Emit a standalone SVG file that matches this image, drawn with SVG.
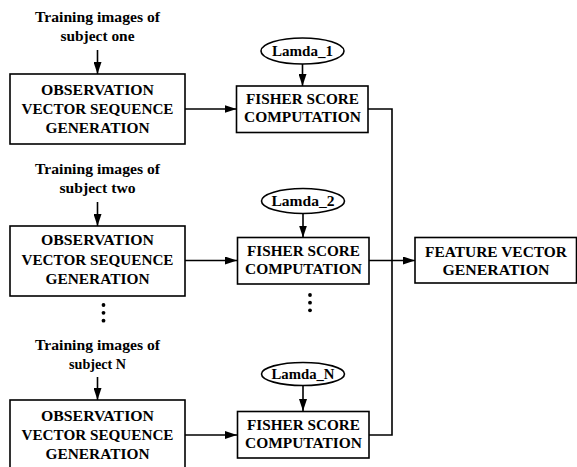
<svg xmlns="http://www.w3.org/2000/svg" width="577" height="467" viewBox="0 0 577 467" font-family="'Liberation Serif', 'Times New Roman', Times, serif">
<style>
text{font-family:'Liberation Serif','Times New Roman',Times,serif;font-weight:700;font-size:14px;text-anchor:middle;fill:#000}
.box{fill:#fff;stroke:#000;stroke-width:1.6}
.ln{fill:none;stroke:#000;stroke-width:1.6}
.arr{marker-end:url(#ah)}
</style>
<defs>
<marker id="ah" markerUnits="userSpaceOnUse" markerWidth="12" markerHeight="8" refX="12" refY="4" orient="auto">
<path d="M0,0 L12,4 L0,8 z" fill="#000"/>
</marker>
</defs>
<g id="connectors">
<path class="ln arr" d="M97.5,50 V74"/>
<path class="ln arr" d="M97.5,202 V226"/>
<path class="ln arr" d="M97.5,377 V400"/>
<path class="ln arr" d="M185,109 H236.5"/>
<path class="ln arr" d="M185,260.5 H237"/>
<path class="ln arr" d="M185,435 H237"/>
<path class="ln arr" d="M302.5,64 V86"/>
<path class="ln arr" d="M303,213.5 V237.5"/>
<path class="ln arr" d="M303,385.5 V411"/>
<path class="ln" d="M368,109 H392 V435 H369"/>
<path class="ln arr" d="M369,260.5 H415"/>
</g>
<g id="label1"><text x="97.5" y="22" textLength="125" lengthAdjust="spacingAndGlyphs">Training images of</text><text x="97.5" y="41" textLength="74" lengthAdjust="spacingAndGlyphs">subject one</text></g>
<g id="label2"><text x="97.5" y="173.5" textLength="125" lengthAdjust="spacingAndGlyphs">Training images of</text><text x="97.5" y="192.5" textLength="76" lengthAdjust="spacingAndGlyphs">subject two</text></g>
<g id="label3"><text x="97.5" y="349.5" textLength="125" lengthAdjust="spacingAndGlyphs">Training images of</text><text x="97.5" y="368.5" textLength="57" lengthAdjust="spacingAndGlyphs">subject N</text></g>
<g id="obs1"><rect class="box" x="10" y="74" width="175" height="70"/>
<text x="97.5" y="95" textLength="113" lengthAdjust="spacingAndGlyphs">OBSERVATION</text>
<text x="97.5" y="114" textLength="152" lengthAdjust="spacingAndGlyphs">VECTOR SEQUENCE</text>
<text x="97.5" y="133" textLength="104" lengthAdjust="spacingAndGlyphs">GENERATION</text></g>
<g id="obs2"><rect class="box" x="10" y="226" width="175" height="70"/>
<text x="97.5" y="245" textLength="113" lengthAdjust="spacingAndGlyphs">OBSERVATION</text>
<text x="97.5" y="264.5" textLength="152" lengthAdjust="spacingAndGlyphs">VECTOR SEQUENCE</text>
<text x="97.5" y="283.5" textLength="104" lengthAdjust="spacingAndGlyphs">GENERATION</text></g>
<g id="obs3"><rect class="box" x="10" y="400" width="175" height="70"/>
<text x="97.5" y="421" textLength="113" lengthAdjust="spacingAndGlyphs">OBSERVATION</text>
<text x="97.5" y="440" textLength="152" lengthAdjust="spacingAndGlyphs">VECTOR SEQUENCE</text>
<text x="97.5" y="458.5" textLength="104" lengthAdjust="spacingAndGlyphs">GENERATION</text></g>
<g id="lamda1"><ellipse class="box" cx="302.5" cy="51" rx="41.5" ry="13"/><text x="302.5" y="56" textLength="61" lengthAdjust="spacingAndGlyphs">Lamda_1</text></g>
<g id="lamda2"><ellipse class="box" cx="303" cy="201" rx="41.5" ry="12.5"/><text x="303" y="206" textLength="63" lengthAdjust="spacingAndGlyphs">Lamda_2</text></g>
<g id="lamdaN"><ellipse class="box" cx="303" cy="374" rx="41.5" ry="11.5"/><text x="303" y="379" textLength="63" lengthAdjust="spacingAndGlyphs">Lamda_N</text></g>
<g id="fisher1"><rect class="box" x="236.5" y="86" width="131.5" height="46.5"/>
<text x="302.5" y="104" textLength="113" lengthAdjust="spacingAndGlyphs">FISHER SCORE</text>
<text x="302.5" y="122" textLength="117" lengthAdjust="spacingAndGlyphs">COMPUTATION</text></g>
<g id="fisher2"><rect class="box" x="237.5" y="237.5" width="131.5" height="46.5"/>
<text x="303.5" y="255.5" textLength="113" lengthAdjust="spacingAndGlyphs">FISHER SCORE</text>
<text x="303.5" y="273.5" textLength="117" lengthAdjust="spacingAndGlyphs">COMPUTATION</text></g>
<g id="fisher3"><rect class="box" x="237.5" y="411.5" width="131.5" height="46.5"/>
<text x="303.5" y="429.5" textLength="113" lengthAdjust="spacingAndGlyphs">FISHER SCORE</text>
<text x="303.5" y="447.5" textLength="117" lengthAdjust="spacingAndGlyphs">COMPUTATION</text></g>
<g id="feature"><rect class="box" x="415" y="237.5" width="161.5" height="45.5"/>
<text x="496" y="256.5" textLength="142" lengthAdjust="spacingAndGlyphs">FEATURE VECTOR</text>
<text x="496" y="274.5" textLength="107" lengthAdjust="spacingAndGlyphs">GENERATION</text></g>
<g id="dots">
<circle cx="103.5" cy="305" r="1.9"/><circle cx="103.5" cy="312.8" r="1.9"/><circle cx="103.5" cy="320.7" r="1.9"/>
<circle cx="310" cy="295" r="1.9"/><circle cx="310" cy="302.7" r="1.9"/><circle cx="310" cy="310.3" r="1.9"/>
</g>
</svg>
